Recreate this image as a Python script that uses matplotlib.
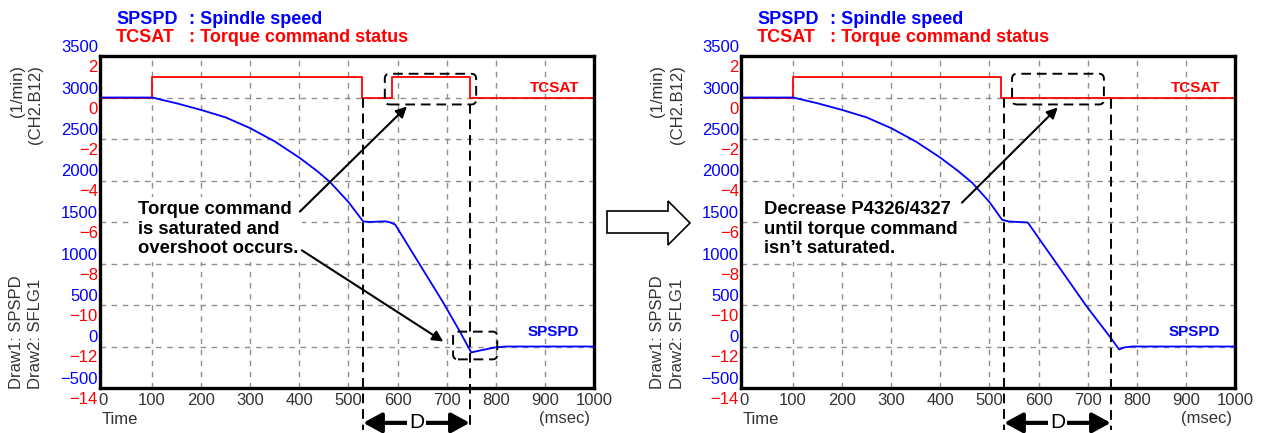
import numpy as np
import matplotlib
matplotlib.use('Agg')
import matplotlib.pyplot as plt
from matplotlib.patches import FancyBboxPatch, Polygon
from matplotlib.transforms import ScaledTranslation

plt.rcParams['font.family'] = ['Liberation Sans', 'DejaVu Sans']

# ---------------- data ----------------
time_left = [0, 100, 150, 200, 250, 300, 350, 400, 436, 462, 500, 530, 545, 560, 575, 585, 595, 692, 727, 750, 768, 798, 820, 1000]
spspd_left = [3000, 3000, 2930, 2850, 2760, 2630, 2470, 2275, 2115, 1984, 1740, 1506, 1500, 1505, 1508, 1495, 1470, 538, 179, -72, -48, -12, 0, 0]
tcsat_time_left = [0, 100, 100, 527, 527, 589, 589, 747, 747, 1000]
tcsat_left = [0, 0, 1, 1, 0, 0, 1, 1, 0, 0]

time_right = [0, 100, 150, 200, 250, 300, 350, 400, 436, 465, 500, 526, 540, 578, 697, 748, 764, 774, 790, 1000]
spspd_right = [3000, 3000, 2930, 2850, 2760, 2630, 2470, 2275, 2115, 1972, 1740, 1525, 1506, 1494, 490, 96, -36, -12, 0, 0]
tcsat_time_right = [0, 100, 100, 524, 524, 1000]
tcsat_right = [0, 0, 1, 1, 0, 0]

speed_ticks = [-500, 0, 500, 1000, 1500, 2000, 2500, 3000, 3500]
speed_labels = ['\u2212500', '0', '500', '1000', '1500', '2000', '2500', '3000', '3500']
status_ticks = [-14, -12, -10, -8, -6, -4, -2, 0, 2]
status_labels = ['\u221214', '\u221212', '\u221210', '\u22128', '\u22126', '\u22124', '\u22122', '0', '2']
time_ticks = [0, 100, 200, 300, 400, 500, 600, 700, 800, 900, 1000]
time_labels = [str(t) for t in time_ticks]
grid_time = [100, 200, 300, 400, 500, 600, 700, 800, 900]
grid_speed = [0, 500, 1000, 1500, 2000, 2500, 3000]

D_start = 530
D_end = 747

BLUE = '#0000FF'
RED = '#FF0000'
GRAY = '#333333'

W, H = 1268, 433
fig = plt.figure(figsize=(W / 100, H / 100), dpi=100)


def fx(px):
    return px / W


def fy(py):
    return 1 - py / H


def panel(left_px, t, s, tt, ts):
    ax = fig.add_axes([fx(left_px), fy(388), 494 / W, 332 / H])
    ax2 = ax.twinx()
    ax2.set_ylim(-14, 2)
    ax.set_zorder(ax2.get_zorder() + 1)
    ax.patch.set_visible(False)

    for g in grid_time:
        ax.axvline(g, color='#8f8f8f', ls=(0, (4, 4)), lw=1.0, zorder=0.5)
    for g in grid_speed:
        ax.axhline(g, color='#8f8f8f', ls=(0, (4, 4)), lw=1.0, zorder=0.5)

    ax.plot(tt, ts, color=RED, lw=1.3, transform=ax2.transData, zorder=2)
    ax.plot(t, s, color=BLUE, lw=1.3, zorder=3)

    ax.set_xlim(-6, 1000)
    ax.set_ylim(-500, 3500)

    ax.set_xticks(time_ticks)
    ax.set_xticklabels(time_labels)
    ax.set_yticks(speed_ticks)
    ax.set_yticklabels(speed_labels)
    ax.tick_params(which='both', length=0)
    ax.tick_params(axis='x', pad=3.6, labelsize=12, labelcolor=GRAY)
    ax.tick_params(axis='y', pad=1.5, labelsize=12, labelcolor=BLUE)
    for lab in ax.get_yticklabels():
        lab.set_transform(lab.get_transform() + ScaledTranslation(0, 7.2 / 72, fig.dpi_scale_trans))

    ax2.set_yticks(status_ticks)
    ax2.set_yticklabels(status_labels)
    ax2.yaxis.set_ticks_position('left')
    ax2.tick_params(axis='y', length=0, pad=1.5, labelsize=12, labelcolor=RED,
                    labelleft=True, labelright=False)
    for lab in ax2.get_yticklabels():
        lab.set_transform(lab.get_transform() + ScaledTranslation(0, -7.2 / 72, fig.dpi_scale_trans))
    for sp in ax2.spines.values():
        sp.set_visible(False)
    for sp in ax.spines.values():
        sp.set_linewidth(2.4)
        sp.set_color('black')

    # side texts
    off = left_px - 100
    fig.text(fx(17 + off), fy(65), '(1/min)', rotation=90, ha='center', va='top', fontsize=12, color=GRAY)
    fig.text(fx(36 + off), fy(65), '(CH2.B12)', rotation=90, ha='center', va='top', fontsize=12, color=GRAY)
    fig.text(fx(17 + off), fy(389), 'Draw1: SPSPD', rotation=90, ha='center', va='bottom', fontsize=12, color=GRAY)
    fig.text(fx(36 + off), fy(389), 'Draw2: SFLG1', rotation=90, ha='center', va='bottom', fontsize=12, color=GRAY)
    fig.text(fx(102 + off), fy(419), 'Time', ha='left', va='center', fontsize=12, color=GRAY)
    fig.text(fx(565 + off), fy(418), '(msec)', ha='center', va='center', fontsize=12, color=GRAY)

    # header
    fig.text(fx(115 + off + 1), fy(19), 'SPSPD', color=BLUE, fontsize=13, fontweight='bold', va='center')
    fig.text(fx(188 + off + 1), fy(19), ': Spindle speed', color=BLUE, fontsize=13, fontweight='bold', va='center')
    fig.text(fx(115 + off + 1), fy(38), 'TCSAT', color=RED, fontsize=13, fontweight='bold', va='center')
    fig.text(fx(188 + off + 1), fy(38), ': Torque command status', color=RED, fontsize=13, fontweight='bold', va='center')

    # in-plot labels
    ax.text(920, 3119, 'TCSAT', color=RED, fontsize=11, fontweight='bold', ha='center', va='center')
    ax.text(917, 179, 'SPSPD', color=BLUE, fontsize=11, fontweight='bold', ha='center', va='center')
    return ax


def aspect(ax):
    bb = ax.get_position()
    wpx = bb.width * W
    hpx = bb.height * H
    xr = ax.get_xlim()[1] - ax.get_xlim()[0]
    yr = ax.get_ylim()[1] - ax.get_ylim()[0]
    return (yr / hpx) / (xr / wpx)


def dashed_box(ax, x0, x1, y0, y1):
    ma = aspect(ax)
    p = FancyBboxPatch((x0, y0), x1 - x0, y1 - y0,
                       boxstyle='round,pad=0,rounding_size=10',
                       mutation_aspect=ma, transform=ax.transData,
                       fill=False, ec='black', lw=1.4, ls=(0, (5, 3)), zorder=5, clip_on=False)
    ax.add_patch(p)


def arrow(ax, tail, head):
    ax.annotate('', xy=head, xytext=tail,
                arrowprops=dict(arrowstyle='-|>', color='black', lw=1.5,
                                mutation_scale=16, shrinkA=0, shrinkB=0), zorder=6)


def d_marker(ax, y_top_start, y_top_end):
    ax.plot([D_start, D_start], [y_top_start, -1004], color='black', lw=1.4, ls=(0, (5, 3)), clip_on=False, zorder=5)
    ax.plot([D_end, D_end], [y_top_end, -1004], color='black', lw=1.4, ls=(0, (5, 3)), clip_on=False, zorder=5)
    ax.annotate('', xy=(D_start, -920), xytext=(D_end, -920),
                arrowprops=dict(arrowstyle='<|-|>,head_length=0.55,head_width=0.3', color='black', lw=3.0,
                                mutation_scale=20, shrinkA=0, shrinkB=0),
                annotation_clip=False, zorder=6)
    ax.text((D_start + D_end) / 2, -920, 'D', ha='center', va='center', fontsize=15,
            bbox=dict(fc='white', ec='none', pad=1.5), zorder=7, clip_on=False)


# ---- left panel ----
axL = panel(100, time_left, spspd_left, tcsat_time_left, tcsat_left)
dashed_box(axL, 574, 760, 2916, 3286)
dashed_box(axL, 713, 803, -155, 179)
d_marker(axL, 2988, 2916)
axL.text(71, 1750, 'Torque command\nis saturated and\novershoot occurs.', fontsize=13.3, fontweight='bold',
         ha='left', va='top', linespacing=1.2, bbox=dict(fc='white', ec='none', pad=3), zorder=4)
arrow(axL, (401, 1625), (619, 2892))
arrow(axL, (405, 1159), (693, 60))

# ---- right panel ----
axR = panel(741, time_right, spspd_right, tcsat_time_right, tcsat_right)
dashed_box(axR, 546, 733, 2916, 3286)
d_marker(axR, 2988, 2982)
axR.text(41, 1750, 'Decrease P4326/4327\nuntil torque command\nisn\u2019t saturated.', fontsize=13.3, fontweight='bold',
         ha='left', va='top', linespacing=1.2, bbox=dict(fc='white', ec='none', pad=3), zorder=4)
arrow(axR, (444, 1733), (639, 2880))

# ---- big hollow arrow between panels ----
pts = [(607, 211), (668, 211), (668, 201), (690, 223), (668, 245), (668, 233), (607, 233)]
fig.add_artist(Polygon([(fx(x), fy(y)) for x, y in pts], closed=True, fc='white', ec='black', lw=1.2,
                       transform=fig.transFigure))

fig.savefig('out.png', dpi=100)
